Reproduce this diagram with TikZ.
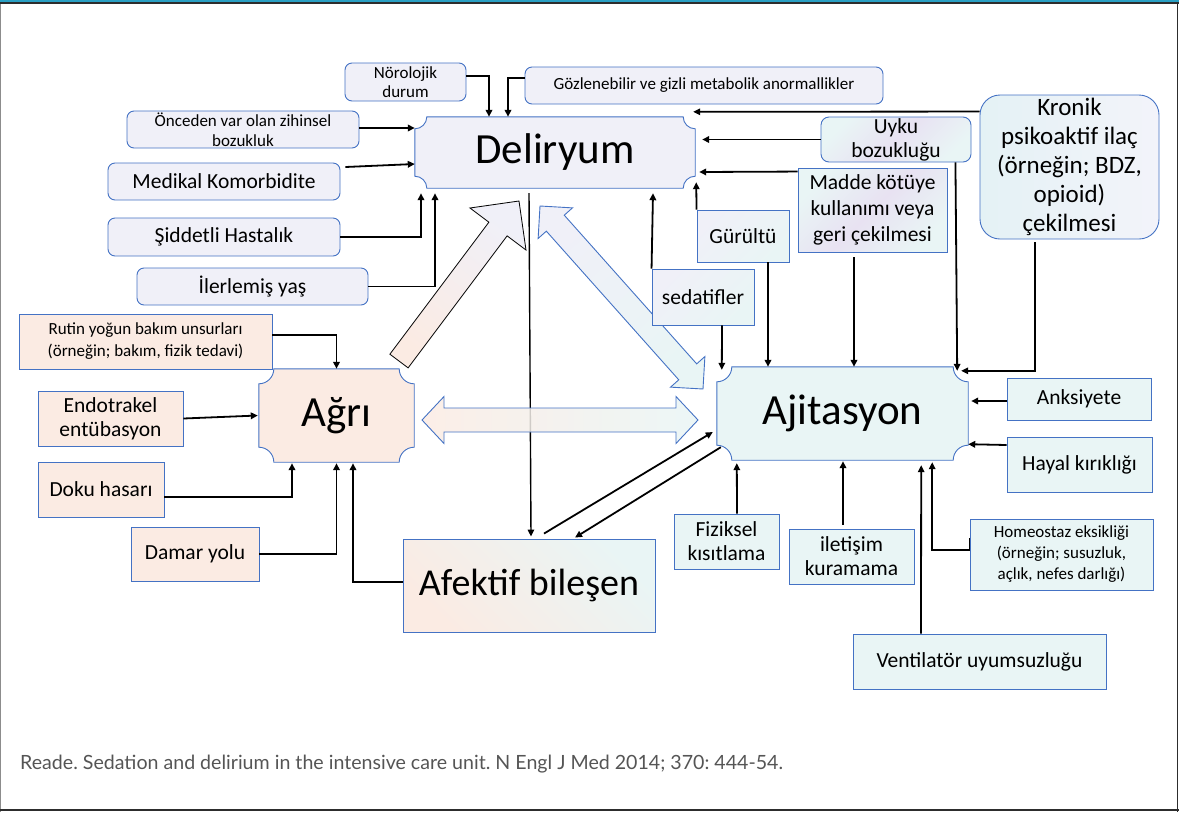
\documentclass[tikz,border=0pt]{standalone}
\usepackage{fontspec}
\setmainfont{Carlito}
\newfontfamily\citefont{Lato}
\usetikzlibrary{arrows.meta,calc}
\pgfdeclarelayer{bg}
\pgfsetlayers{bg,main}
\frenchspacing

\definecolor{lav}{RGB}{240,240,248}
\definecolor{peach}{RGB}{251,235,227}
\definecolor{tealc}{RGB}{233,245,245}
\definecolor{lilac}{RGB}{232,226,242}
\definecolor{bordc}{RGB}{68,114,196}
\definecolor{topteal}{RGB}{42,160,196}
\definecolor{framedark}{RGB}{45,45,45}
\definecolor{citec}{RGB}{85,85,85}

\newcommand\fs[2]{\fontsize{#1}{#2}\selectfont}

% a box given by its left, top, right and bottom edges
\newcommand\bx[7][]{%
  \node[#1, minimum width={(#5-#3)*1pt}, minimum height={(#6-#4)*1pt}]
    (#2) at ({(#3+#5)/2},{(#4+#6)/2}) {#7};}

% frame with concave rounded corners around a node
\newcommand\plaque[3]{%
  \begin{pgfonlayer}{bg}
  \path[#3] ($(#1.north west)+(#2,0)$) -- ($(#1.north east)-(#2,0)$)
    arc[start angle=180,end angle=90,radius=#2]
    -- ($(#1.south east)-(0,#2)$)
    arc[start angle=270,end angle=180,radius=#2]
    -- ($(#1.south west)+(#2,0)$)
    arc[start angle=0,end angle=-90,radius=#2]
    -- ($(#1.north west)+(0,#2)$)
    arc[start angle=90,end angle=0,radius=#2] -- cycle;
  \end{pgfonlayer}}

\tikzset{
  every node/.style={inner sep=0pt, align=center, text=black},
  small/.style={font=\fs{17}{19.5}},
  mid/.style={font=\fs{21.5}{24}},
  lavbox/.style={draw=bordc, fill=lav, line width=0.9pt, rounded corners=7pt},
  peachbox/.style={draw=bordc, fill=peach, line width=0.9pt},
  tealbox/.style={draw=bordc, fill=tealc, line width=0.9pt},
  mixbox/.style={draw=bordc, line width=0.9pt, top color=lav, bottom color=tealc, shading angle=45},
  lilacbox/.style={draw=bordc, line width=0.9pt, top color=tealc, bottom color=tealc, middle color=lilac, shading angle=45},
  conn/.style={line width=1.8pt, -{Triangle[length=7pt,width=6.5pt]}},
  thinconn/.style={line width=1.4pt, -{Triangle[length=7pt,width=6.5pt]}},
  blockline/.style={draw=bordc, line width=0.9pt},
}

\begin{document}
\begin{tikzpicture}[x=1pt,y=-1pt]
\useasboundingbox (0,0) rectangle (1179,812);

% page frame
\fill[topteal] (0,0) rectangle (1179,2);
\fill[framedark] (0,2) rectangle (1179,3.6);
\fill[black!45] (0,3.6) rectangle (1.3,812);
\fill[framedark] (1176.6,3.6) rectangle (1178.4,812);
\fill[framedark] (0,809.2) rectangle (1179,810.8);

% central concepts
\bx{del}{415}{117}{695}{188}{\fs{43}{48}Deliryum}
\bx{agri}{259}{369}{414}{462}{\fs{43}{48}Ağrı}
\bx{ajit}{717}{367}{968}{460}{\fs{43}{48}Ajitasyon}
\bx[draw=bordc, line width=0.9pt, top color=tealc, bottom color=peach, shading angle=-45]{afk}{403}{539}{655}{632}{\fs{38}{42}Afektif bileşen}

% delirium factors
\bx[lavbox,small]{nor}{345}{63}{466}{101}{Nörolojik\\durum}
\bx[lavbox,small]{goz}{525}{67}{883}{104}{Gözlenebilir ve gizli metabolik anormallikler}
\bx[lavbox,small]{onc}{127}{111}{359}{148}{Önceden var olan zihinsel\\bozukluk}
\bx[lavbox,mid]{med}{108}{163}{340}{200}{Medikal Komorbidite}
\bx[lavbox,mid]{sid}{108}{218}{340}{256}{Şiddetli Hastalık}
\bx[lavbox,mid]{ile}{137}{268}{368}{305}{İlerlemiş yaş}

% shared factors
\bx[lilacbox,mid,rounded corners=8pt]{uyku}{821}{117}{971}{162}{Uyku\\bozukluğu}
\bx[lilacbox,font=\fs{21.5}{26}]{madde}{798}{168}{947}{252}{Madde kötüye\\kullanımı veya\\geri çekilmesi}
\bx[mixbox,mid]{gur}{697}{210}{789}{262}{Gürültü}
\bx[mixbox,mid]{sed}{652}{269}{754}{325}{sedatifler}
\bx[draw=bordc, line width=0.9pt, rounded corners=20pt, left color={rgb,255:red,228;green,242;blue,245}, right color={rgb,255:red,243;green,243;blue,250}, font=\fs{25}{29}]{kronik}{980}{95}{1159}{239}{Kronik\\psikoaktif ilaç\\(örneğin; BDZ,\\opioid)\\çekilmesi}

% pain factors
\bx[peachbox,font=\fs{17}{22}]{rutin}{19}{314}{272}{369}{Rutin yoğun bakım unsurları\\(örneğin; bakım, fizik tedavi)}
\bx[peachbox,mid]{endo}{38}{391}{183}{446}{Endotrakel\\entübasyon}
\bx[peachbox,mid]{doku}{38}{462}{164}{517}{Doku hasarı}
\bx[peachbox,mid]{damar}{131}{527}{259}{581}{Damar yolu}

% agitation factors
\bx[tealbox,mid]{anks}{1007}{378}{1151}{420}{Anksiyete}
\bx[tealbox,mid]{hayal}{1007}{437}{1152}{492}{Hayal kırıklığı}
\bx[tealbox,font=\fs{17}{21}]{homeo}{970}{519}{1153}{590}{Homeostaz eksikliği\\(örneğin; susuzluk,\\açlık, nefes darlığı)}
\bx[tealbox,mid]{fiz}{674}{514}{779}{569}{Fiziksel\\kısıtlama}
\bx[tealbox,mid]{ilet}{789}{529}{914}{584}{iletişim\\kuramama}
\bx[tealbox,mid]{vent}{853}{634}{1106}{689}{Ventilatör uyumsuzluğu}

% block arrows and the long link, kept under the boxes
\begin{pgfonlayer}{bg}
\draw[thinconn] ([xshift=-26pt,yshift=-5pt]del.south) -- ([xshift=2pt,yshift=2pt]afk.north);
\path[draw=black, line width=0.8pt, top color=lav, bottom color=peach, shading angle=-36.87]
  (389.88,354.16) -- (488.88,222.16) -- (470,208) -- (519,201) -- (526,250)
  -- (507.12,235.84) -- (408.12,367.84) -- cycle;
\path[blockline, top color=lav, bottom color=tealc, shading angle=41.7]
  (540,206) -- (572.47,207.87) -- (564.26,215.19) -- (696.68,363.86) -- (704.89,356.54)
  -- (703,389) -- (670.55,387.14) -- (678.76,379.82) -- (546.34,231.15) -- (538.13,238.47) -- cycle;
\path[blockline, left color=peach, right color=tealc, fill opacity=0.85]
  (422,420) -- (444,396.5) -- (444,408) -- (676,408) -- (676,396.5) -- (698,420)
  -- (676,443.5) -- (676,432) -- (444,432) -- (444,443.5) -- cycle;
\end{pgfonlayer}

\plaque{del}{12}{draw=bordc, fill=lav, line width=0.9pt}
\plaque{agri}{15}{draw=bordc, fill=peach, line width=0.9pt}
\plaque{ajit}{15}{draw=bordc, fill=tealc, line width=0.9pt}

% into Deliryum
\draw[conn] ([yshift=6pt]nor.east) -| ([xshift=-66pt]del.north);
\draw[conn] ([yshift=7.5pt]goz.west) -| ([xshift=-47pt]del.north);
\draw[conn] ([yshift=1.5pt]onc.east) -- ([yshift=24.5pt]del.west);
\draw[conn] ([xshift=5pt,yshift=14.5pt]med.east) -- ([yshift=-11.5pt]del.west);
\draw[conn] (sid.east) -| ([xshift=-134pt,yshift=-5pt]del.south);
\draw[conn] (ile.east) -| ([xshift=-120pt,yshift=-5pt]del.south);
\draw[conn] ([yshift=-17pt]kronik.north west) -- ([xshift=-2pt,yshift=5pt]del.north east);
\draw[conn] (uyku.west) -- ([xshift=7pt,yshift=13pt]del.east);
\draw[conn] ([yshift=-4pt]madde.north west) -- ([xshift=4pt,yshift=-19.5pt]del.east);
\draw[conn] (gur.north west) -- ([xshift=1pt,yshift=6pt]del.south east);
\draw[conn] (sed.north west) -- ([xshift=98pt,yshift=-5pt]del.south);

% into Ajitasyon
\draw[conn] ([xshift=19pt]sed.south) -- ([xshift=5pt,yshift=-3pt]ajit.north west);
\draw[conn] ([xshift=25pt]gur.south) -- ([xshift=-74.5pt]ajit.north);
\draw[conn] ([xshift=-18.5pt,yshift=-5pt]madde.south) -- ([xshift=11.5pt]ajit.north);
\draw[conn] ([xshift=-16pt]uyku.south east) -- ([xshift=-11pt,yshift=-4pt]ajit.north east);
\draw[conn] ([xshift=-34.5pt,yshift=-3pt]kronik.south) |- ([xshift=-7pt,yshift=-4pt]ajit.north east);
\draw[conn] ([yshift=-2pt]anks.west) -- ([xshift=3pt,yshift=12.5pt]ajit.east);
\draw[conn] ([yshift=19.5pt]hayal.west) -- ([yshift=16pt]ajit.south east);
\draw[conn] ([yshift=16.5pt]homeo.west) -- ([yshift=4.5pt]homeo.west) -| ([xshift=-36pt,yshift=-2pt]ajit.south east);
\draw[conn] ([xshift=-58.5pt]vent.north) -- ([xshift=-47pt,yshift=-5pt]ajit.south east);
\draw[conn] ([xshift=-8.5pt,yshift=4pt]ilet.north) -- ([xshift=0.5pt,yshift=-1pt]ajit.south);
\draw[conn] ([xshift=10.5pt]fiz.north) -- ([xshift=20pt,yshift=-3pt]ajit.south west);

% Afektif bileşen links
\draw[conn] ([xshift=15pt,yshift=5pt]afk.north) -- ([xshift=-4pt,yshift=-18.5pt]ajit.west);
\draw[conn] ([xshift=4pt,yshift=13pt]ajit.south west) -- ([xshift=46pt,yshift=1pt]afk.north);
\draw[conn] ([yshift=3.5pt]afk.west) -| ([xshift=16.5pt,yshift=-1pt]agri.south);

% into Ağrı
\draw[conn] ([yshift=6.5pt]rutin.east) -| (agri.north);
\draw[conn] (endo.east) -- ([xshift=-1pt]agri.west);
\draw[conn] ([yshift=-7.5pt]doku.east) -| ([xshift=-44.5pt,yshift=-1pt]agri.south);
\draw[conn] (damar.east) -| ([yshift=-1pt]agri.south);

% source
\node[anchor=base west, font=\citefont\fs{19.6}{22}, text=citec] (cite) at (20,769)
  {Reade. Sedation and delirium in the intensive care unit. N Engl J Med 2014; 370: 444-54.};
\end{tikzpicture}
\end{document}
